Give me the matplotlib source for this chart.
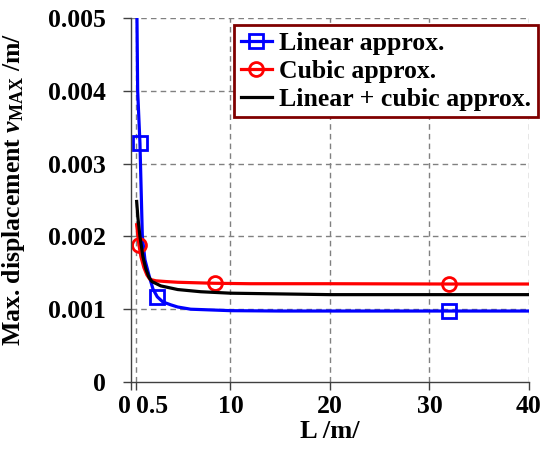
import matplotlib
matplotlib.use("Agg")
import matplotlib.pyplot as plt

# data
lin_L = [0.55, 0.6, 0.67, 0.9, 1.14, 1.4, 1.8, 2.2, 2.64, 3.2, 4.0, 4.7, 6, 8, 10, 15, 20, 32, 40]
lin_v = [0.0060, 0.0050, 0.0040, 0.00328, 0.0020, 0.00168, 0.00147, 0.00128, 0.00117, 0.00110,
         0.00106, 0.00103, 0.00100, 0.00099, 0.00098, 0.000975, 0.000975, 0.000975, 0.000975]
lin_marks = [3, 8, 17]

cub_L = [0.57, 0.8, 1.0, 1.3, 1.6, 1.9, 2.5, 3.5, 4.7, 6, 8.4, 12, 20, 32, 40]
cub_v = [0.00216, 0.00188, 0.00172, 0.00157, 0.00147, 0.00141, 0.00139, 0.00138, 0.00137,
         0.001365, 0.001356, 0.00135, 0.00135, 0.001346, 0.001346]
cub_marks = [1, 10, 13]

both_L = [0.57, 0.7, 0.9, 1.2, 1.5, 1.8, 2.1, 3, 4.7, 7, 10, 15, 20, 40]
both_v = [0.00248, 0.00225, 0.0020, 0.00172, 0.00155, 0.00144, 0.00138, 0.00132, 0.00127,
          0.00124, 0.00122, 0.00121, 0.0012, 0.0012]

x_ticks = [0, 0.5, 10, 20, 30, 40]
x_labels = ["0", "0.5", "10", "20", "30", "40"]
y_ticks = [0, 0.001, 0.002, 0.003, 0.004, 0.005]
y_labels = ["0", "0.001", "0.002", "0.003", "0.004", "0.005"]

plt.rcParams["font.family"] = ["Liberation Serif", "DejaVu Serif"]
plt.rcParams["font.weight"] = "bold"
plt.rcParams["mathtext.fontset"] = "custom"
plt.rcParams["mathtext.rm"] = "Liberation Serif:bold"
plt.rcParams["mathtext.it"] = "Liberation Serif:italic:bold"

fig = plt.figure(figsize=(5.44, 4.5), dpi=100)
ax = fig.add_axes([0.2408, 0.1511, 0.7316, 0.8089])

ax.plot(lin_L, lin_v, color="#0000ff", lw=2.3, marker="s", ms=10, mfc="none",
        mew=2, markevery=lin_marks, label="Linear approx.")
ax.plot(cub_L, cub_v, color="#ff0000", lw=2.3, marker="o", ms=10, mfc="none",
        mew=2, markevery=cub_marks, label="Cubic approx.")
ax.plot(both_L, both_v, color="black", lw=2.3, label="Linear + cubic approx.")

ax.set_xlim(0, 40)
ax.set_ylim(0, 0.005)
ax.set_xticks(x_ticks)
ax.set_xticklabels(x_labels)
ax.set_yticks(y_ticks)
ax.set_yticklabels(y_labels)

# grid lines (dashed) at every tick, including the top and right edges
for x in x_ticks[1:]:
    ax.axvline(x, color="#808080", lw=1, ls=(0, (4, 3)), zorder=0)
for y in y_ticks[1:]:
    ax.axhline(y, color="#808080", lw=1, ls=(0, (4, 3)), zorder=0)

for s in ["top", "right"]:
    ax.spines[s].set_visible(False)
for s in ["left", "bottom"]:
    ax.spines[s].set_color("#404040")
    ax.spines[s].set_linewidth(1)

ax.tick_params(direction="out", length=6, width=1, color="#404040", labelsize=18.5)
ax.tick_params(axis="y", pad=12)
xl = ax.get_xticklabels()
xl[0].set_horizontalalignment("right")
xl[1].set_horizontalalignment("left")

ax.set_xlabel("L /m/", fontsize=19, fontweight="bold", labelpad=1)
ax.set_ylabel(r"Max. displacement $v_{\mathrm{MAX}}$ /m/", fontsize=18.5,
              fontweight="bold")
ax.yaxis.set_label_coords(-0.261, 0.53)

leg = ax.legend(loc="upper right", bbox_to_anchor=(1.022, 0.98), fontsize=18.5,
                fancybox=False, framealpha=1, edgecolor="#800000",
                handlelength=1.2, handletextpad=0.3, borderpad=0.25,
                labelspacing=0.2, borderaxespad=0)
leg.get_frame().set_linewidth(2)

fig.savefig("out.png", dpi=100)
